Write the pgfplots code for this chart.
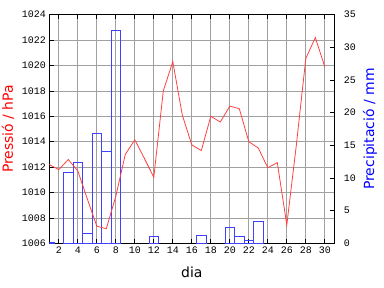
\documentclass[border=0pt]{standalone}
\usepackage{pgfplots}
\pgfplotsset{compat=1.18}
\usepackage{fontspec}
\setmainfont{DejaVu Sans}
\newfontfamily\tickfont{Liberation Mono}
\definecolor{pline}{RGB}{255,64,64}
\definecolor{pbar}{RGB}{64,64,255}
\definecolor{gridc}{RGB}{160,160,160}
\begin{document}
\begin{tikzpicture}
\pgfplotsset{
  common/.style={
    scale only axis, width=285bp, height=228.6bp,
    xmin=1, xmax=31,
    at={(0,0)}, anchor=south west,
    /pgf/number format/assume math mode=true,
    /pgf/number format/1000 sep={},
    scaled ticks=false,
    ticklabel style={font=\tickfont\fontsize{10}{10}\selectfont},
    tick style={black, line width=0.8pt},
    tick align=inside,
    axis line style={black, line width=0.8pt},
  }
}
% axis 1: pressure frame, grid, labels
\begin{axis}[common,
  ymin=1006, ymax=1024, ytick={1006,1008,...,1024},
  xtick={2,4,...,30},
  ytick pos=left, xtick pos=both,
  grid=major, major grid style={gridc, line width=0.8pt},
  xlabel={dia}, ylabel={Pressió / hPa},
  every axis x label/.style={at={(axis description cs:0.5,-0.1255)}, anchor=center, font=\fontsize{14}{14}\selectfont},
  every axis y label/.style={at={(axis description cs:-0.145,0.5)}, anchor=center, rotate=90, font=\fontsize{14}{14}\selectfont, text=red},
]
\end{axis}
% axis 2: precipitation bars
\begin{axis}[common,
  ymin=0, ymax=35, ytick={0,5,...,35},
  axis y line*=right, axis x line=none,
  yticklabel style={xshift=6bp},
  ylabel={Precipitació / mm},
  every axis y label/.style={at={(axis description cs:1.125,0.5)}, anchor=center, rotate=90, font=\fontsize{14}{14}\selectfont, text=blue},
]
\addplot[ybar, bar width=1, draw=pbar, fill=none, line width=0.8pt] coordinates {
(1,0.2) (3,10.9) (4,12.4) (5,1.5) (6,16.8) (7,14.1) (8,32.6)
(12,1.1) (17,1.2) (20,2.45) (21,1.1) (22,0.5) (23,3.3)
};
\end{axis}
% axis 3: pressure line
\begin{axis}[common, hide axis,
  ymin=1006, ymax=1024,
]
\addplot[pline, line width=0.8pt, mark=none] coordinates {
(1,1012.2) (2,1011.8) (3,1012.6) (4,1011.7) (5,1009.5) (6,1007.35)
(7,1007.15) (8,1009.7) (9,1013.0) (10,1014.15) (11,1012.7) (12,1011.2)
(13,1018.0) (14,1020.3) (15,1016.1) (16,1013.75) (17,1013.3) (18,1016.0)
(19,1015.55) (20,1016.8) (21,1016.6) (22,1014.0) (23,1013.5) (24,1011.95)
(25,1012.35) (26,1007.45) (27,1013.7) (28,1020.55) (29,1022.2) (30,1019.9)
};
\end{axis}
\pgfresetboundingbox
\useasboundingbox (-49.3bp,-44.7bp) rectangle (334.7bp,243.3bp);
\end{tikzpicture}
\end{document}
